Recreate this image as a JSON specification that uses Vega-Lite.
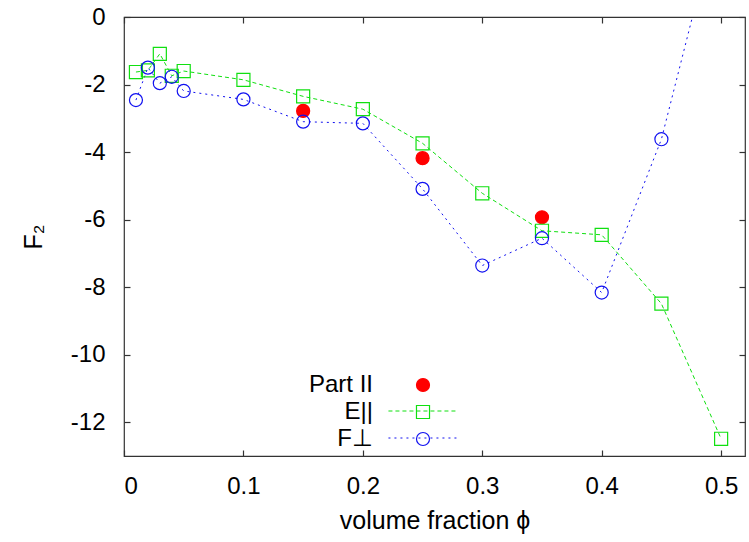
{
  "$schema": "https://vega.github.io/schema/vega-lite/v6.json",
  "width": 621,
  "height": 439,
  "autosize": {"type": "none"},
  "padding": {"left": 124, "top": 17, "right": 4, "bottom": 86},
  "config": {
    "view": {"stroke": "#333", "strokeWidth": 1.2},
    "font": "Liberation Sans",
    "axis": {
      "grid": false,
      "domain": false,
      "tickSize": -6,
      "tickColor": "#333",
      "tickWidth": 1.2,
      "labelFontSize": 24,
      "labelColor": "#000",
      "labelFont": "Liberation Sans",
      "titleFontSize": 25,
      "titleFontWeight": "normal",
      "titleColor": "#000",
      "titleFont": "Liberation Sans"
    }
  },
  "datasets": {
    "pts": [
      {"series": "Part II", "phi": 0.15, "F2": -2.78},
      {"series": "Part II", "phi": 0.25, "F2": -4.18},
      {"series": "Part II", "phi": 0.35, "F2": -5.93},
      {"series": "E||", "phi": 0.01, "F2": -1.63},
      {"series": "E||", "phi": 0.02, "F2": -1.58},
      {"series": "E||", "phi": 0.03, "F2": -1.09},
      {"series": "E||", "phi": 0.04, "F2": -1.74},
      {"series": "E||", "phi": 0.05, "F2": -1.6},
      {"series": "E||", "phi": 0.1, "F2": -1.86},
      {"series": "E||", "phi": 0.15, "F2": -2.35},
      {"series": "E||", "phi": 0.2, "F2": -2.73},
      {"series": "E||", "phi": 0.25, "F2": -3.74},
      {"series": "E||", "phi": 0.3, "F2": -5.22},
      {"series": "E||", "phi": 0.35, "F2": -6.33},
      {"series": "E||", "phi": 0.4, "F2": -6.45},
      {"series": "E||", "phi": 0.45, "F2": -8.49},
      {"series": "E||", "phi": 0.5, "F2": -12.49},
      {"series": "F⊥", "phi": 0.01, "F2": -2.46},
      {"series": "F⊥", "phi": 0.02, "F2": -1.5},
      {"series": "F⊥", "phi": 0.03, "F2": -1.96},
      {"series": "F⊥", "phi": 0.04, "F2": -1.77},
      {"series": "F⊥", "phi": 0.05, "F2": -2.19},
      {"series": "F⊥", "phi": 0.1, "F2": -2.44},
      {"series": "F⊥", "phi": 0.15, "F2": -3.1},
      {"series": "F⊥", "phi": 0.2, "F2": -3.15},
      {"series": "F⊥", "phi": 0.25, "F2": -5.09},
      {"series": "F⊥", "phi": 0.3, "F2": -7.36},
      {"series": "F⊥", "phi": 0.35, "F2": -6.55},
      {"series": "F⊥", "phi": 0.4, "F2": -8.16},
      {"series": "F⊥", "phi": 0.45, "F2": -3.62},
      {"series": "F⊥", "phi": 0.5, "F2": 3.35}
    ]
  },
  "data": {"name": "pts"},
  "layer": [
    {
      "transform": [{"filter": "datum.series !== 'Part II'"}],
      "mark": {"type": "line", "strokeWidth": 1, "clip": true},
      "encoding": {
        "x": {
          "field": "phi", "type": "quantitative",
          "scale": {"domain": [0, 0.52], "nice": false, "zero": false},
          "axis": {
            "orient": "bottom",
            "values": [0, 0.1, 0.2, 0.3, 0.4, 0.5],
            "labelExpr": "'' + datum.value",
            "labelPadding": 24,
            "title": "volume fraction ϕ",
            "titlePadding": 10
          }
        },
        "y": {
          "field": "F2", "type": "quantitative",
          "scale": {"domain": [-13, 0], "nice": false, "zero": false},
          "axis": {
            "orient": "left",
            "values": [-12, -10, -8, -6, -4, -2, 0],
            "labelExpr": "'' + datum.value",
            "labelPadding": 25,
            "title": "F₂",
            "titlePadding": 24
          }
        },
        "color": {
          "field": "series", "type": "nominal",
          "scale": {"domain": ["E||", "F⊥"], "range": ["#10e010", "#1010f0"]},
          "legend": {
            "orient": "none", "legendX": 287, "legendY": 382, "title": null,
            "padding": 0, "rowPadding": 3, "symbolType": "M-5.3,0L5.3,0", "symbolSize": 170,
            "symbolStrokeWidth": 1, "labelFontSize": 24, "labelOpacity": 0
          }
        },
        "strokeDash": {
          "field": "series", "type": "nominal",
          "scale": {"domain": ["E||", "F⊥"], "range": [[4, 3], [2, 4]]},
          "legend": {
            "orient": "none", "legendX": 287, "legendY": 382, "title": null,
            "padding": 0, "rowPadding": 3, "symbolType": "M-5.3,0L5.3,0", "symbolSize": 170,
            "symbolStrokeWidth": 1, "labelFontSize": 24, "labelOpacity": 0
          }
        }
      }
    },
    {
      "mark": {"type": "point", "clip": true, "size": 170, "strokeWidth": 1.2, "opacity": 1},
      "encoding": {
        "x": {
          "field": "phi", "type": "quantitative",
          "axis": {"orient": "top", "values": [0, 0.1, 0.2, 0.3, 0.4, 0.5], "labels": false, "title": null}
        },
        "y": {
          "field": "F2", "type": "quantitative",
          "axis": {"orient": "right", "values": [-12, -10, -8, -6, -4, -2, 0], "labels": false, "title": null}
        },
        "shape": {
          "field": "series", "type": "nominal",
          "scale": {"domain": ["Part II", "E||", "F⊥"], "range": ["circle", "square", "circle"]},
          "legend": {
            "orient": "none", "legendX": 287, "legendY": 356, "title": null,
            "padding": 0, "rowPadding": 3, "symbolSize": 170, "symbolStrokeWidth": 1.2,
            "labelFontSize": 24, "labelAlign": "right", "labelOffset": -62, "labelColor": "#000"
          }
        },
        "stroke": {
          "field": "series", "type": "nominal",
          "scale": {"domain": ["Part II", "E||", "F⊥"], "range": ["#ff0000", "#10e010", "#1010f0"]},
          "legend": {
            "orient": "none", "legendX": 287, "legendY": 356, "title": null,
            "padding": 0, "rowPadding": 3, "symbolSize": 170, "symbolStrokeWidth": 1.2,
            "labelFontSize": 24, "labelAlign": "right", "labelOffset": -62, "labelColor": "#000"
          }
        },
        "fill": {
          "field": "series", "type": "nominal",
          "scale": {"domain": ["Part II", "E||", "F⊥"], "range": ["#ff0000", "transparent", "transparent"]},
          "legend": {
            "orient": "none", "legendX": 287, "legendY": 356, "title": null,
            "padding": 0, "rowPadding": 3, "symbolSize": 170, "symbolStrokeWidth": 1.2,
            "labelFontSize": 24, "labelAlign": "right", "labelOffset": -62, "labelColor": "#000"
          }
        }
      }
    }
  ],
  "resolve": {"axis": {"x": "independent", "y": "independent"}}
}
